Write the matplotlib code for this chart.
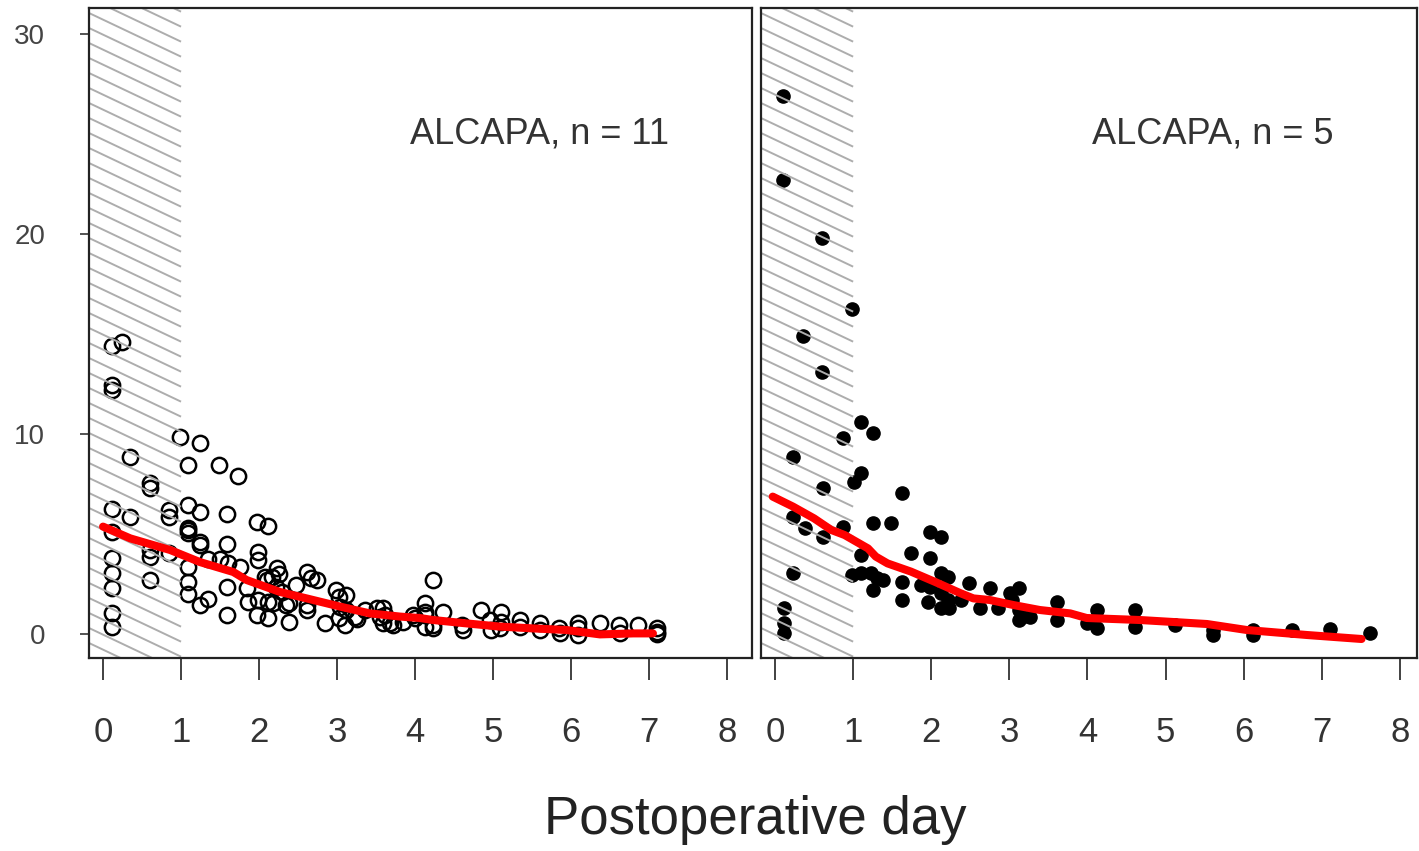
import matplotlib.pyplot as plt
import numpy as np

plt.rcParams['font.family'] = ['Liberation Sans', 'DejaVu Sans']

# left panel: open circles (n = 11)
left_x = [0.11, 0.24, 0.11, 0.11, 0.11, 0.11, 0.11, 0.11, 0.11, 0.11, 0.11,
          0.35, 0.35, 0.6, 0.6, 0.6, 0.6, 0.6, 0.85, 0.85, 0.85,
          0.99, 1.09, 1.09, 1.09, 1.09, 1.09, 1.09, 1.09, 1.09,
          1.24, 1.24, 1.24, 1.24, 1.24, 1.35, 1.35,
          1.49, 1.5, 1.6, 1.59, 1.59, 1.59, 1.59,
          1.73, 1.76, 1.84, 1.86,
          1.97, 2.12, 1.99, 1.99, 1.97, 2.12, 1.99, 2.12, 2.1,
          2.23, 2.25, 2.16, 2.08, 2.22, 2.18, 2.29, 2.35, 2.38, 2.38,
          2.48, 2.61, 2.67, 2.74, 2.61, 2.61, 2.85,
          2.99, 3.02, 3.12, 3.04, 3.12, 3.1, 3.02, 3.23, 3.25, 3.36,
          3.51, 3.59, 3.55, 3.62, 3.59, 3.72, 3.68,
          3.85, 3.98, 4.0, 4.13, 4.13, 4.13, 4.13, 4.23, 4.23, 4.36, 4.23,
          4.6, 4.62, 4.85, 4.96, 4.98, 5.1, 5.1, 5.09,
          5.35, 5.35, 5.6, 5.6, 5.84, 5.86, 6.09, 6.09, 6.09, 6.37,
          6.61, 6.63, 6.86, 7.1, 7.1, 7.1]
left_y = [14.4, 14.6, 12.45, 12.2, 6.25, 5.1, 3.8, 3.05, 2.3, 1.05, 0.35,
          8.87, 5.85, 7.57, 7.3, 4.2, 3.85, 2.7, 6.2, 5.87, 4.05,
          9.85, 8.45, 6.45, 5.3, 5.2, 5.05, 3.37, 2.6, 2.0,
          9.55, 6.1, 4.6, 4.45, 1.45, 1.73, 3.75,
          8.45, 3.75, 3.55, 6.0, 4.5, 2.37, 0.95,
          7.9, 3.35, 2.3, 1.6,
          5.58, 5.42, 4.1, 3.7, 0.95, 0.8, 1.7, 1.62, 2.7,
          3.28, 3.0, 2.87, 2.87, 2.37, 1.53, 2.12, 1.45, 0.62, 1.53,
          2.45, 3.1, 2.78, 2.7, 1.45, 1.2, 0.55,
          2.2, 1.85, 1.95, 1.37, 1.2, 0.45, 0.78, 0.87, 0.75, 1.2,
          1.28, 1.28, 0.87, 0.95, 0.53, 0.45, 0.55,
          0.6, 0.95, 0.78, 1.53, 1.12, 0.95, 0.37, 0.28, 2.7, 1.12, 0.45,
          0.45, 0.2, 1.2, 0.7, 0.2, 1.12, 0.62, 0.28,
          0.7, 0.37, 0.53, 0.2, 0.3, 0.05, 0.53, 0.28, -0.05, 0.53,
          0.45, 0.03, 0.45, 0.28, 0.12, 0.0]

# right panel: filled dots (n = 5)
right_x = [0.1, 0.1, 0.6, 0.36, 0.99, 0.6,
           1.1, 1.25, 0.87, 0.23, 1.1, 1.01, 0.61, 1.63, 0.23, 0.38, 0.61, 0.87,
           1.25, 1.49, 1.98, 2.13, 1.1, 1.74, 1.98, 0.23, 0.99, 1.1, 1.23, 1.31,
           1.38, 1.25, 1.63, 1.63, 1.87, 1.98, 2.13, 2.21, 2.13, 2.21, 2.13, 2.23,
           1.96, 2.38, 0.12, 0.12, 0.12,
           2.48, 2.75, 2.62, 2.86, 3.01, 3.12, 3.03, 3.12, 3.12, 3.27, 3.16,
           3.61, 3.61, 3.99, 4.12, 4.12, 4.61, 4.61, 5.12, 5.61, 5.61,
           6.12, 6.12, 6.62, 7.11, 7.62]
right_y = [26.9, 22.7, 19.8, 14.9, 16.25, 13.1,
           10.6, 10.03, 9.78, 8.87, 8.03, 7.62, 7.28, 7.03, 5.87, 5.28, 4.87, 5.37,
           5.53, 5.53, 5.12, 4.87, 3.95, 4.03, 3.78, 3.03, 2.95, 3.03, 3.03, 2.78,
           2.7, 2.2, 2.62, 1.7, 2.45, 2.37, 3.03, 2.87, 2.03, 1.7, 1.28, 1.28,
           1.62, 1.7, 1.28, 0.53, 0.03,
           2.53, 2.28, 1.28, 1.28, 2.03, 2.28, 1.7, 1.2, 0.7, 0.87, 0.87,
           1.62, 0.7, 0.53, 1.2, 0.28, 1.2, 0.37, 0.45, 0.2, -0.05,
           0.2, -0.05, 0.2, 0.23, 0.03]

# smoothed trend lines
left_fit_x = [0, 0.35, 0.86, 1.24, 1.67, 1.84, 2.27, 2.61, 3.04, 3.42, 3.81,
              4.06, 4.23, 4.66, 5.09, 5.51, 5.94, 6.37, 6.8, 7.05]
left_fit_y = [5.37, 4.78, 4.2, 3.6, 3.1, 2.7, 2.1, 1.78, 1.37, 1.03, 0.87,
              0.8, 0.7, 0.53, 0.37, 0.28, 0.2, -0.02, 0.03, 0.03]
right_fit_x = [-0.03, 0.23, 0.5, 0.72, 0.89, 1.19, 1.29, 1.44, 1.74, 2.04, 2.38,
               2.54, 2.75, 3.05, 3.39, 3.78, 3.99, 4.67, 5.53, 6.04, 6.81, 7.51]
right_fit_y = [6.87, 6.37, 5.78, 5.2, 4.95, 4.28, 3.87, 3.53, 3.12, 2.62, 2.03,
               1.78, 1.7, 1.45, 1.2, 1.03, 0.8, 0.7, 0.5, 0.2, -0.05, -0.25]

panel_labels = ['ALCAPA, n = 11', 'ALCAPA, n = 5']
xticks = list(range(0, 9))
yticks = [0, 10, 20, 30]
shade_end = 1.0  # first postoperative day is shaded

W, H = 1419, 851
fig = plt.figure(figsize=(W / 100, H / 100), dpi=100)
ax1 = fig.add_axes([89 / W, 1 - 658 / H, 663 / W, 650 / H])
ax2 = fig.add_axes([761 / W, 1 - 658 / H, 656 / W, 650 / H])

ylim = (-1.2, 31.3)
ax1.set_xlim(-0.18, 8.32)
ax2.set_xlim(-0.18, 8.22)


def shade(ax):
    x0 = ax.get_xlim()[0]
    slope = -1.85   # data units, gives the shallow diagonal
    step = 0.75
    for c in np.arange(ylim[0], ylim[1] + 2 * abs(slope) + step, step):
        ax.plot([x0, shade_end], [c, c + slope * (shade_end - x0)],
                color='#adadad', lw=1.4, zorder=2.5, solid_capstyle='butt')


for ax, lab in zip([ax1, ax2], panel_labels):
    ax.set_ylim(*ylim)
    shade(ax)
    ax.text(5.6, 25, lab, ha='center', va='center', fontsize=26, color='#333333')
    ax.set_xticks(xticks)
    ax.tick_params(axis='x', direction='out', length=16, width=1.3, pad=26,
                   labelsize=25, colors='#333333')
    for s in ax.spines.values():
        s.set_linewidth(1.6)
        s.set_color('#222222')

ax1.plot(left_x, left_y, 'o', mfc='none', mec='black', ms=11, mew=1.8, zorder=2)
ax2.plot(right_x, right_y, 'o', color='black', ms=9.5, zorder=2)
ax1.plot(left_fit_x, left_fit_y, color='#ff0000', lw=5.8, zorder=3, solid_capstyle='round')
ax2.plot(right_fit_x, right_fit_y, color='#ff0000', lw=5.8, zorder=3, solid_capstyle='round')

ax1.set_yticks(yticks)
ax1.tick_params(axis='y', direction='out', length=6.5, width=1.3, pad=25,
                labelsize=20, colors='#444444')
ax2.set_yticks([])

fig.text(755 / W, 1 - 820 / H, 'Postoperative day', ha='center', va='center',
         fontsize=38, color='#222222')

fig.savefig('out.png', dpi=100)
